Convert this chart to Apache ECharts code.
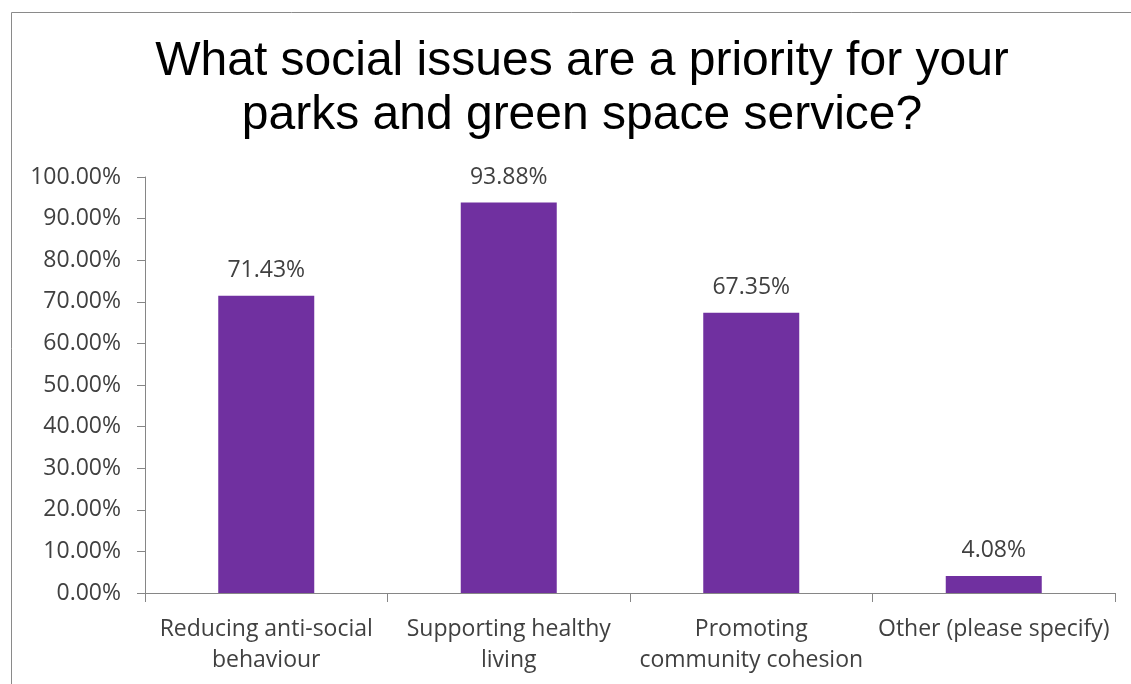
<!DOCTYPE html>
<html>
<head>
<meta charset="utf-8">
<script src="https://cdn.jsdelivr.net/npm/echarts@6/dist/echarts.min.js"></script>
<style>
  html, body { margin: 0; padding: 0; background: #fff; }
  #chart { width: 1131px; height: 684px; }
</style>
</head>
<body>
<div id="chart"></div>
<script>
// Survey responses: share of services naming each social issue as a priority
const categories = [
  'Reducing anti-social\nbehaviour',
  'Supporting healthy\nliving',
  'Promoting\ncommunity cohesion',
  'Other (please specify)'
];
const values = [71.43, 93.88, 67.35, 4.08];
const titleText = 'What social issues are a priority for your\nparks and green space service?';

const labelFont = 'Open Sans';
const textGrey = '#404040';
const axisGrey = '#868686';

const chart = echarts.init(document.getElementById('chart'), null, { renderer: 'canvas' });

chart.setOption({
  backgroundColor: '#ffffff',
  animation: false,
  title: {
    text: titleText,
    left: 577,
    top: 30,
    textAlign: 'center',
    textStyle: {
      fontFamily: 'Liberation Sans',
      fontSize: 48,
      fontWeight: 'normal',
      color: '#000000',
      lineHeight: 54
    }
  },
  graphic: [{
    type: 'rect',
    shape: { x: 11.5, y: 12.5, width: 1200, height: 800 },
    style: { fill: 'none', stroke: '#8a8a8a', lineWidth: 1 },
    silent: true,
    z: -1
  }],
  grid: { left: 145, right: 16, top: 177, bottom: 91 },
  xAxis: {
    type: 'category',
    data: categories,
    axisLine: { lineStyle: { color: axisGrey, width: 1 } },
    axisTick: { show: true, length: 9, lineStyle: { color: axisGrey } },
    axisLabel: {
      interval: 0,
      margin: 21,
      fontFamily: labelFont,
      fontSize: 23,
      color: textGrey,
      lineHeight: 31
    }
  },
  yAxis: {
    type: 'value',
    min: 0,
    max: 100,
    interval: 10,
    axisLine: { show: true, lineStyle: { color: axisGrey, width: 1 } },
    axisTick: { show: true, length: 8, lineStyle: { color: axisGrey } },
    splitLine: { show: false },
    axisLabel: {
      margin: 24,
      fontFamily: labelFont,
      fontSize: 23,
      color: textGrey,
      formatter: v => v.toFixed(2) + '%'
    }
  },
  series: [{
    type: 'bar',
    data: values,
    barWidth: 96,
    itemStyle: { color: '#7030A0' },
    label: {
      show: true,
      position: 'top',
      distance: 14,
      fontFamily: labelFont,
      fontSize: 23,
      color: textGrey,
      formatter: p => p.value.toFixed(2) + '%'
    }
  }]
});
</script>
</body>
</html>
